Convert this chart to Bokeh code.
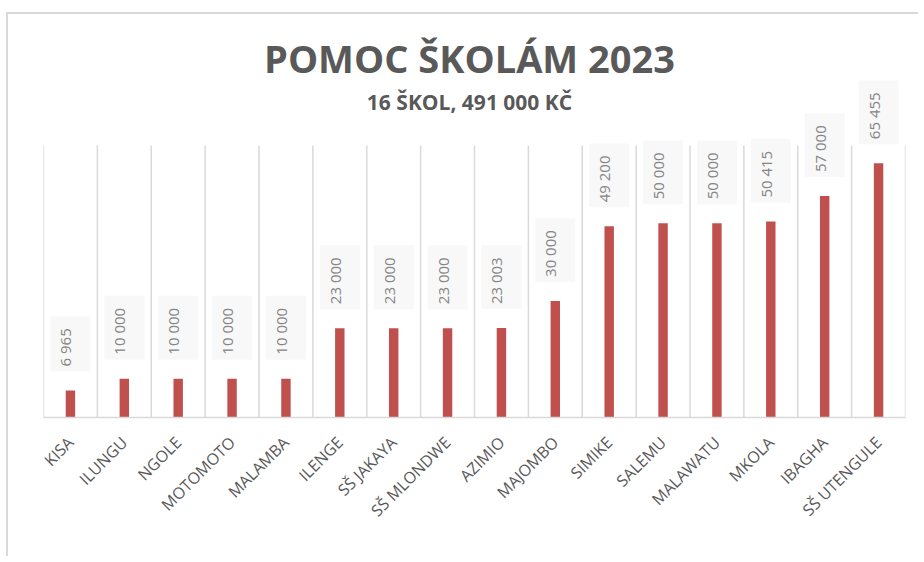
import math
from bokeh.plotting import figure
from bokeh.models import Range1d, FixedTicker
from bokeh.core.properties import value
from bokeh.embed import file_html
from bokeh.resources import INLINE

# ---- data ----
schools = ["KISA", "ILUNGU", "NGOLE", "MOTOMOTO", "MALAMBA", "ILENGE",
           "SŠ JAKAYA", "SŠ MLONDWE", "AZIMIO", "MAJOMBO", "SIMIKE", "SALEMU",
           "MALAWATU", "MKOLA", "IBAGHA", "SŠ UTENGULE"]
amounts = [6965, 10000, 10000, 10000, 10000, 23000, 23000, 23000, 23003,
           30000, 49200, 50000, 50000, 50415, 57000, 65455]
title_text = "POMOC ŠKOLÁM 2023"
subtitle_text = "16 ŠKOL, 491 000 KČ"
axis_max = 70000

# ---- layout (page coords of the reference) ----
ORG_X, ORG_Y = 8, 14                       # canvas origin on the page
W, H = 912, 544
frame_top, frame_bottom = 20 - ORG_Y, 417 - ORG_Y
frame_left, frame_right = 43 - ORG_X, 905 - ORG_X
axis_px = 272                              # px for 0..axis_max
ymax = axis_max * (frame_bottom - frame_top) / axis_px
n = len(schools)
centers = [i + 0.5 for i in range(n)]
bounds = list(range(n + 1))
labels = [f"{v:,}".replace(",", " ") for v in amounts]

p = figure(width=W, height=H, output_backend="svg", toolbar_location=None,
           x_range=Range1d(0, n), y_range=Range1d(0, ymax),
           min_border_left=frame_left, min_border_right=W - frame_right,
           min_border_top=frame_top, min_border_bottom=H - frame_bottom)
p.styles = {"border-top": "2px solid #d9d9d9", "border-left": "2px solid #d9d9d9",
            "margin-top": "12px", "margin-left": "6px"}
p.outline_line_color = None
p.xgrid.visible = False
p.ygrid.visible = False
p.yaxis.visible = False

# vertical gridlines between categories
p.segment(x0=bounds, y0=[0] * len(bounds), x1=bounds, y1=[axis_max] * len(bounds),
          line_color="#d9d9d9", line_width=1.5)

# bars
p.vbar(x=centers, top=amounts, width=0.175, fill_color="#c0504d", line_color=None)

# value labels
p.text(x=centers, y=amounts, text=labels, angle=math.pi / 2, y_offset=-19,
       text_align="left", text_baseline="middle",
       text_font=value("Open Sans"), text_font_size="15px", text_color="#858585",
       background_fill_color="#f8f8f8", padding=(5, 12, 5, 15))

# title / subtitle
title_x = (469 - 43) / ((frame_right - frame_left) / n)
def y_at(page_y):
    return (417 - page_y) / axis_px * axis_max
p.text(x=[title_x], y=[y_at(57)], text=[title_text], text_align="center",
       text_baseline="middle", text_font=value("Open Sans"),
       text_font_style="bold", text_font_size="38px", text_color="#595959")
p.text(x=[title_x], y=[y_at(101)], text=[subtitle_text], text_align="center",
       text_baseline="middle", text_font=value("Open Sans"),
       text_font_style="bold", text_font_size="21px", text_color="#595959")

# x axis
ax = p.xaxis[0]
ax.ticker = FixedTicker(ticks=centers)
ax.major_label_overrides = {c: s for c, s in zip(centers, schools)}
ax.major_label_orientation = math.pi / 4
ax.major_label_text_font = "Open Sans"
ax.major_label_text_font_size = "16px"
ax.major_label_text_color = "#595959"
ax.major_label_standoff = 16
ax.major_tick_line_color = None
ax.minor_tick_line_color = None
ax.axis_line_color = "#d9d9d9"
ax.axis_line_width = 1.5

open("out.html", "w").write(file_html(p, INLINE))
